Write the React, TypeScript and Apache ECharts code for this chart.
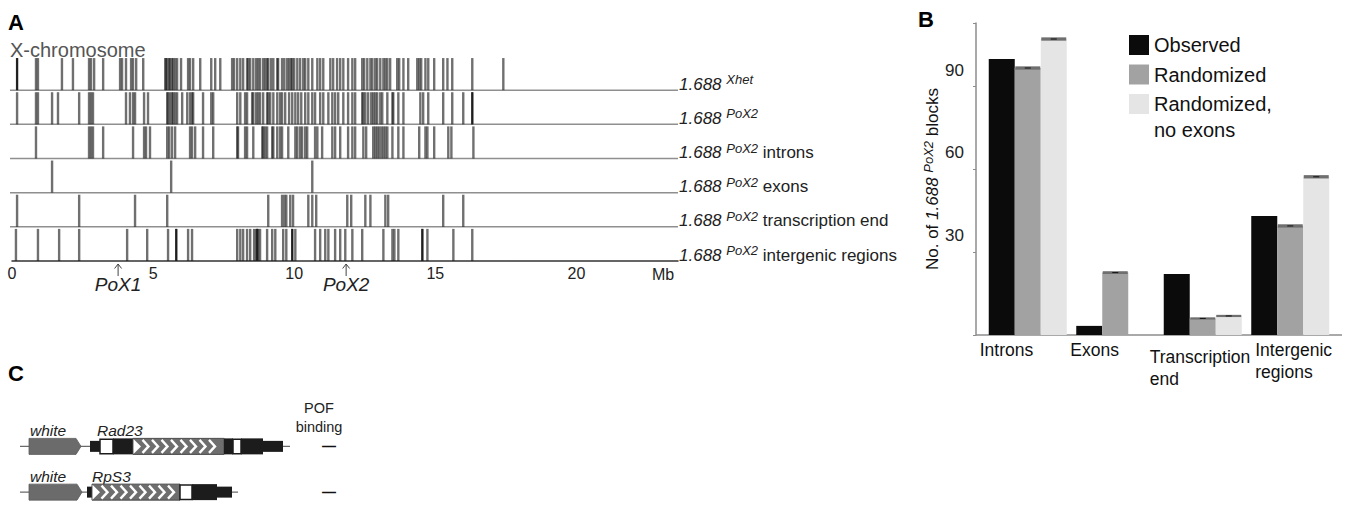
import React, { useEffect, useRef } from 'react';
import * as echarts from 'echarts';

const FONT = '"Liberation Sans", Arial, Helvetica, sans-serif';

// ---------------- Panel A data (positions in Mb) ----------------
const trackSup = ['Xhet', 'PoX2', 'PoX2', 'PoX2', 'PoX2', 'PoX2'];
const trackSuffix = ['', '', 'introns', 'exons', 'transcription end', 'intergenic regions'];

const xhetMb = [0.18, 0.85, 0.92, 1.77, 2.16, 2.73, 2.80, 2.91, 3.23, 3.83, 3.90, 4.04, 4.22, 4.29, 4.40, 4.65,
  5.43, 5.46, 5.50, 5.57, 5.60, 5.67, 5.71, 5.78, 5.85, 5.99, 6.24, 6.31, 6.42, 6.67, 7.06, 7.20, 7.38,
  7.80, 7.87, 7.98, 8.09, 8.19, 8.33, 8.37, 8.44, 8.55, 8.65, 8.72, 8.79, 8.90, 8.97, 9.04, 9.08, 9.18,
  9.26, 9.40, 9.43, 9.57, 9.65, 9.75, 9.82, 9.89, 9.93, 10.00, 10.11, 10.21, 10.32, 10.39, 10.50, 10.64,
  10.82, 10.92, 11.03, 11.28, 11.38, 11.52, 11.63, 11.74, 11.91, 12.06, 12.16, 12.41, 12.48, 12.59, 12.70,
  12.77, 12.87, 12.94, 13.05, 13.16, 13.23, 13.30, 13.40, 13.65, 13.72, 13.87, 14.04, 14.36, 14.43, 14.50,
  14.65, 14.75, 14.96, 15.28, 15.43, 15.60, 16.31, 17.41];
const pox2Mb = [0.18, 0.85, 0.92, 1.42, 1.63, 2.38, 2.73, 2.80, 2.87, 4.04, 4.18, 4.29, 4.36, 4.68, 4.82,
  5.50, 5.53, 5.60, 5.67, 5.71, 5.78, 5.85, 6.03, 6.21, 6.31, 6.38, 6.42, 6.77, 7.06, 7.13, 7.98, 8.09,
  8.26, 8.33, 8.51, 8.55, 8.65, 8.72, 8.79, 8.90, 9.04, 9.08, 9.15, 9.26, 9.40, 9.50, 9.57, 9.68, 9.82,
  9.93, 10.04, 10.14, 10.25, 10.39, 10.50, 10.64, 10.74, 10.92, 11.03, 11.21, 11.35, 11.45, 11.56, 11.74,
  11.91, 12.06, 12.16, 12.41, 12.45, 12.52, 12.62, 12.73, 12.80, 12.87, 12.94, 13.05, 13.12, 13.30, 13.48,
  13.51, 13.69, 13.87, 14.47, 14.57, 14.75, 15.28, 15.60, 15.99, 16.31];
const intronsMb = [0.85, 2.73, 2.80, 2.87, 3.23, 4.29, 4.68, 4.75, 4.89, 5.50, 5.57, 5.67, 5.78, 6.31, 6.38,
  6.49, 6.77, 7.13, 7.98, 8.01, 8.26, 8.33, 8.55, 8.87, 8.90, 8.97, 9.04, 9.22, 9.26, 9.40, 9.50, 9.57,
  9.79, 10.04, 10.11, 10.21, 10.28, 10.39, 10.46, 10.74, 10.82, 10.99, 11.35, 11.45, 11.63, 11.91, 12.06,
  12.16, 12.45, 12.55, 12.80, 12.87, 12.94, 13.01, 13.09, 13.16, 13.23, 13.30, 13.48, 13.69, 13.87, 14.43,
  14.65, 14.72, 14.96, 15.46, 15.57, 16.35];
const exonsMb = [1.42, 5.64, 10.64];
const transcriptionEndMb = [0.18, 2.38, 4.36, 5.50, 9.08, 9.57, 9.65, 9.72, 9.86, 9.96, 10.50, 10.64, 10.78,
  11.88, 12.02, 12.52, 12.70, 13.23, 13.33, 15.28, 15.99];
const intergenicMb = [0.14, 0.92, 1.67, 2.38, 4.08, 4.79, 5.53, 5.82, 6.24, 6.38, 7.98, 8.09, 8.19, 8.33,
  8.44, 8.58, 8.65, 8.69, 8.72, 8.79, 9.04, 9.22, 9.33, 9.61, 9.72, 9.93, 10.04, 10.74, 10.92, 11.10, 11.21,
  11.45, 11.63, 11.81, 12.06, 12.41, 13.16, 13.48, 13.55, 13.69, 14.54, 14.72, 15.64, 16.31];
const strongMarks = [[0.18, 0], [16.31, 1], [5.82, 5], [8.69, 5], [9.93, 5], [14.54, 5]];
const chromosomeEndMb = 23.6;
const poxNames = ['PoX1', 'PoX2'];
const poxMb = [3.76, 11.84];

// ---------------- Panel B data ----------------
const bCategories = ['Introns', 'Exons', 'Transcription end', 'Intergenic regions'];
const bCategoryLabels = ['Introns', 'Exons', 'Transcription\nend', 'Intergenic\nregions'];
const observed = [100, 3.3, 22.1, 43.1];
const randomized = [96.7, 22.6, 6.0, 39.5];
const randomizedNoExons = [107.2, 0, 6.9, 57.3];
const randomizedErr = [0.6, 0.5, 0.4, 0.6];
const noExonsErr = [0.6, 0, 0.4, 0.6];

// ---------------- Panel C data (construct units) ----------------
const constructNames = ['Rad23', 'RpS3'];
const reporterName = 'white';
const segKinds = ['reporter', 'cap', 'open', 'exon', 'cds'];
const rad23Segments: [number, number, string][] = [[19, 71, 'reporter'], [80, 90, 'cap'], [90, 103, 'open'],
  [103, 123, 'exon'], [123, 214, 'cds'], [214, 223, 'exon'], [223, 231, 'open'], [231, 253, 'exon'], [253, 273, 'cap']];
const rps3Segments: [number, number, string][] = [[19, 72, 'reporter'], [77, 82, 'cap'], [82, 170, 'cds'],
  [170, 182, 'open'], [182, 207, 'exon'], [207, 222, 'cap']];
const backbones = [[10, 280], [10, 228]];
const pofBinding = ['—', '—'];

// layout/style constants
const bLabelDx = [-48, -45, -53, -35];
const bLabelDy = [4, 4, 11, 4];
const constructNameAt = [87, 82];
const reporterNameAt = 19;
const pofColumnAt = 319;

function buildOption(): any {
  const trackData = [xhetMb, pox2Mb, intronsMb, exonsMb, transcriptionEndMb, intergenicMb];
  const trackMarks = trackData.flatMap((arr, k) => arr.map((p) => [p, k]));
  const segData = [rad23Segments, rps3Segments].flatMap((segs, r) =>
    segs.map((s) => [r, s[0], s[1], segKinds.indexOf(s[2])]));
  const errData = [
    ...randomized.map((v, i) => [i, v, randomizedErr[i], 1]),
    ...randomizedNoExons.map((v, i) => [i, v, noExonsErr[i], 2]),
  ].filter((d) => d[2] > 0);

  const trackLine = (stroke: string, width: number) => (params: any, api: any) => {
    const pos = api.value(0);
    const k = api.value(1);
    const b = api.coord([pos, 5 - k]);
    const t = api.coord([pos, 5 - k + 0.94]);
    return { type: 'line', shape: { x1: b[0], y1: b[1], x2: t[0], y2: t[1] }, style: { stroke, lineWidth: width } };
  };

  const legendText = { fontSize: 20, lineHeight: 26, color: '#111', fontFamily: FONT };

  return {
    animation: false,
    backgroundColor: '#fff',
    textStyle: { fontFamily: FONT },
    grid: [
      { left: 12, top: 56, width: 666, height: 205 },
      { left: 984, top: 23, width: 350, height: 312 },
      { left: 10, top: 423.5, width: 330, height: 104 },
    ],
    legend: [
      {
        orient: 'vertical', left: 1129, top: 32, padding: 0, itemWidth: 20, itemHeight: 20, itemGap: 3.5,
        selectedMode: false, icon: 'rect', textStyle: legendText,
        data: ['Observed', 'Randomized'],
      },
      {
        orient: 'vertical', left: 1129, top: 91, padding: 0, itemWidth: 20, itemHeight: 46,
        selectedMode: false, icon: 'path://M0,0L20,0L20,20L0,20Z M0,46L0.01,46Z', textStyle: legendText,
        data: ['Randomized, no exons'],
        formatter: (n: string) => n.replace(', ', ',\n'),
      },
    ],
    xAxis: [
      {
        gridIndex: 0, type: 'value', min: 0, max: chromosomeEndMb, interval: 5,
        axisLine: { lineStyle: { color: '#333', width: 1.5 } }, axisTick: { show: false }, splitLine: { show: false },
        axisLabel: { fontSize: 16, color: '#222', margin: 4, formatter: (v: number) => (v % 5 === 0 ? String(v) : '') },
        name: 'Mb', nameLocation: 'end', nameGap: -15,
        nameTextStyle: { fontSize: 16, color: '#222', align: 'center', verticalAlign: 'top', padding: [5, 0, 0, 0] },
      },
      { gridIndex: 1, type: 'category', data: bCategories, axisLine: { show: false }, axisTick: { show: false }, axisLabel: { show: false } },
      { gridIndex: 2, type: 'value', min: 0, max: 330, show: false },
    ],
    yAxis: [
      { gridIndex: 0, type: 'value', min: 0, max: 6, interval: 1, show: false },
      {
        gridIndex: 0, type: 'value', min: 0, max: 6, interval: 1, position: 'right',
        axisLine: { show: false }, axisTick: { show: false }, splitLine: { show: false },
        axisLabel: {
          margin: 1, align: 'left', verticalAlign: 'middle', padding: [0, 0, 12, 0],
          formatter: (v: number) => {
            if (v < 0 || v > 5 || v !== Math.round(v)) return '';
            const k = 5 - v;
            return `{i|1.688 }{s|${trackSup[k]}}` + (trackSuffix[k] ? `{t| ${trackSuffix[k]}}` : '');
          },
          rich: {
            i: { fontSize: 17, fontStyle: 'italic', color: '#222', fontFamily: FONT },
            s: { fontSize: 13, fontStyle: 'italic', color: '#222', fontFamily: FONT, padding: [0, 0, 9, 0] },
            t: { fontSize: 17, color: '#222', fontFamily: FONT },
          },
        },
      },
      {
        gridIndex: 1, type: 'value', min: 0, max: 113, interval: 30, offset: 8,
        axisLine: { show: true, lineStyle: { color: '#8c8c8c', width: 1.5 } },
        axisTick: { show: true, length: 3, lineStyle: { color: '#8c8c8c' } }, splitLine: { show: false },
        axisLabel: {
          fontSize: 17, color: '#222', margin: 12, verticalAlign: 'bottom', padding: [0, 0, 8, 0],
          formatter: (v: number) => (v > 0 && v % 30 === 0 ? String(v) : ''),
        },
        name: '{n|No. of }{i|1.688 }{s|PoX2}{n| blocks}', nameLocation: 'middle', nameGap: 31, nameRotate: 90,
        nameTextStyle: {
          rich: {
            n: { fontSize: 17, color: '#111', fontFamily: FONT },
            i: { fontSize: 17, color: '#111', fontStyle: 'italic', fontFamily: FONT },
            s: { fontSize: 13, color: '#111', fontStyle: 'italic', fontFamily: FONT, padding: [0, 0, 9, 0] },
          },
        },
      },
      { gridIndex: 2, type: 'category', data: constructNames, inverse: true, show: false },
    ],
    graphic: [
      { type: 'text', x: 8, y: 22.5, style: { text: 'A', fontSize: 22, fontWeight: 'bold', fontFamily: FONT, fill: '#000', verticalAlign: 'middle' } },
      { type: 'text', x: 918, y: 19.5, style: { text: 'B', fontSize: 22, fontWeight: 'bold', fontFamily: FONT, fill: '#000', verticalAlign: 'middle' } },
      { type: 'text', x: 8, y: 373.5, style: { text: 'C', fontSize: 22, fontWeight: 'bold', fontFamily: FONT, fill: '#000', verticalAlign: 'middle' } },
      { type: 'text', x: 10, y: 50, style: { text: 'X-chromosome', fontSize: 20, fontFamily: FONT, fill: '#555', verticalAlign: 'middle' } },
      { type: 'text', x: 319, y: 408, style: { text: 'POF', fontSize: 14.5, fontFamily: FONT, fill: '#222', align: 'center', verticalAlign: 'middle' } },
      { type: 'text', x: 319, y: 427, style: { text: 'binding', fontSize: 14.5, fontFamily: FONT, fill: '#222', align: 'center', verticalAlign: 'middle' } },
      { type: 'line', shape: { x1: 976, y1: 335, x2: 1342, y2: 335 }, style: { stroke: '#8c8c8c', lineWidth: 1.5 } },
    ],
    series: [
      // ---- Panel A ----
      {
        type: 'custom', xAxisIndex: 0, yAxisIndex: 0, silent: true, clip: false,
        data: [0, 1, 2, 3, 4].map((k) => [chromosomeEndMb, k]),
        renderItem: (params: any, api: any) => {
          const k = api.value(1);
          const a = api.coord([0, 5 - k]);
          const b = api.coord([api.value(0), 5 - k]);
          return { type: 'line', shape: { x1: a[0] - 2, y1: a[1], x2: b[0], y2: b[1] }, style: { stroke: '#8f8f8f', lineWidth: 1.5 } };
        },
      },
      { type: 'custom', xAxisIndex: 0, yAxisIndex: 0, silent: true, clip: false, data: trackMarks, renderItem: trackLine('rgba(25,25,25,0.62)', 2.4) },
      { type: 'custom', xAxisIndex: 0, yAxisIndex: 0, silent: true, clip: false, data: strongMarks, renderItem: trackLine('#1e1e1e', 2) },
      {
        type: 'custom', xAxisIndex: 0, yAxisIndex: 0, silent: true, clip: false,
        data: poxMb.map((p, i) => [p, i]),
        renderItem: (params: any, api: any) => {
          const p = api.coord([api.value(0), 0]);
          const name = poxNames[api.value(1)];
          return {
            type: 'group', children: [
              { type: 'line', shape: { x1: p[0], y1: p[1] + 3, x2: p[0], y2: p[1] + 15 }, style: { stroke: '#444', lineWidth: 1 } },
              { type: 'polyline', shape: { points: [[p[0] - 3.5, p[1] + 7.5], [p[0], p[1] + 3], [p[0] + 3.5, p[1] + 7.5]] }, style: { stroke: '#444', lineWidth: 1, fill: 'none' } },
              { type: 'text', x: p[0], y: p[1] + 23, style: { text: name, fontSize: 19, fontStyle: 'italic', fontFamily: FONT, fill: '#222', align: 'center', verticalAlign: 'middle' } },
            ],
          };
        },
      },
      // ---- Panel B ----
      { name: 'Observed', type: 'bar', xAxisIndex: 1, yAxisIndex: 2, data: observed, barWidth: 26, barGap: '0%', itemStyle: { color: '#0b0b0b' } },
      { name: 'Randomized', type: 'bar', xAxisIndex: 1, yAxisIndex: 2, data: randomized, barWidth: 26, barGap: '0%', itemStyle: { color: '#a2a2a2' } },
      { name: 'Randomized, no exons', type: 'bar', xAxisIndex: 1, yAxisIndex: 2, data: randomizedNoExons, barWidth: 26, barGap: '0%', itemStyle: { color: '#e5e5e5' } },
      {
        type: 'custom', xAxisIndex: 1, yAxisIndex: 2, silent: true, clip: false, data: errData, z: 5,
        renderItem: (params: any, api: any) => {
          const c = api.value(0), v = api.value(1), e = api.value(2), s = api.value(3);
          const mid = api.coord([c, v]);
          const x = mid[0] + (s - 1) * 26;
          const yt = api.coord([c, v + e])[1];
          const yb = api.coord([c, v - e])[1];
          return {
            type: 'group', children: [
              { type: 'rect', shape: { x: x - 12.5, y: yt, width: 25, height: Math.max(yb - yt, 2) }, style: { fill: '#6f6f6f' } },
              { type: 'line', shape: { x1: x - 3, y1: mid[1], x2: x + 3, y2: mid[1] }, style: { stroke: '#111', lineWidth: 1 } },
            ],
          };
        },
      },
      {
        type: 'custom', xAxisIndex: 1, yAxisIndex: 2, silent: true, clip: false,
        data: bCategoryLabels.map((_, i) => [i, 0]),
        renderItem: (params: any, api: any) => {
          const i = api.value(0);
          const p = api.coord([i, 0]);
          return {
            type: 'text', x: p[0] + bLabelDx[i], y: p[1] + bLabelDy[i],
            style: { text: bCategoryLabels[i], fontSize: 17.5, lineHeight: 22, fontFamily: FONT, fill: '#111', align: 'left', verticalAlign: 'top' },
          };
        },
      },
      // ---- Panel C ----
      {
        type: 'custom', xAxisIndex: 2, yAxisIndex: 3, silent: true, clip: false, encode: { x: [1, 2], y: 0 },
        data: backbones.map((b, r) => [r, b[0], b[1]]),
        renderItem: (params: any, api: any) => {
          const r = api.value(0);
          const a = api.coord([api.value(1), r]);
          const b = api.coord([api.value(2), r]);
          return { type: 'line', shape: { x1: a[0], y1: a[1], x2: b[0], y2: b[1] }, style: { stroke: '#6a6a6a', lineWidth: 1.2 } };
        },
      },
      {
        type: 'custom', xAxisIndex: 2, yAxisIndex: 3, silent: true, clip: false, encode: { x: [1, 2], y: 0 }, z: 3,
        data: segData,
        renderItem: (params: any, api: any) => {
          const r = api.value(0);
          const p0 = api.coord([api.value(1), r]);
          const p1 = api.coord([api.value(2), r]);
          const kind = segKinds[api.value(3)];
          const x0 = p0[0], x1 = p1[0], y = p0[1];
          const H = 8;
          if (kind === 'reporter') {
            return { type: 'polygon', shape: { points: [[x0, y - H], [x1 - 5, y - H], [x1, y], [x1 - 5, y + H], [x0, y + H]] }, style: { fill: '#6b6b6b', stroke: '#5a5a5a', lineWidth: 0.8 } };
          }
          if (kind === 'cap') {
            return { type: 'rect', shape: { x: x0, y: y - 5.5, width: x1 - x0, height: 11 }, style: { fill: '#1c1c1c' } };
          }
          if (kind === 'exon') {
            return { type: 'rect', shape: { x: x0, y: y - H, width: x1 - x0, height: 2 * H }, style: { fill: '#1c1c1c' } };
          }
          if (kind === 'open') {
            return { type: 'rect', shape: { x: x0, y: y - H + 0.75, width: x1 - x0, height: 2 * H - 1.5 }, style: { fill: '#fff', stroke: '#1c1c1c', lineWidth: 1.5 } };
          }
          const children: any[] = [
            { type: 'rect', shape: { x: x0, y: y - H, width: x1 - x0, height: 2 * H }, style: { fill: '#6e6e6e', stroke: '#4a4a4a', lineWidth: 1 } },
            { type: 'polygon', shape: { points: [[x0 + 0.5, y - H + 0.5], [x0 + 8, y], [x0 + 0.5, y + H - 0.5]] }, style: { fill: '#fff' } },
          ];
          for (let cx = x0 + 14; cx < x1 - 2; cx += 9.5) {
            children.push({ type: 'polyline', shape: { points: [[cx - 4.5, y - 6.5], [cx + 1.5, y], [cx - 4.5, y + 6.5]] }, style: { stroke: '#fff', lineWidth: 2.4, fill: 'none' } });
          }
          return { type: 'group', children };
        },
      },
      {
        type: 'custom', xAxisIndex: 2, yAxisIndex: 3, silent: true, clip: false, encode: { x: [1, 2], y: 0 },
        data: constructNames.map((_, r) => [r, reporterNameAt, constructNameAt[r]]),
        renderItem: (params: any, api: any) => {
          const r = api.value(0);
          const a = api.coord([api.value(1), r]);
          const b = api.coord([api.value(2), r]);
          const d = api.coord([pofColumnAt, r]);
          const st = { fontSize: 15.5, fontStyle: 'italic', fontFamily: FONT, fill: '#222', verticalAlign: 'middle' };
          return {
            type: 'group', children: [
              { type: 'text', x: a[0] + 1, y: a[1] - 16, style: { ...st, text: reporterName } },
              { type: 'text', x: b[0], y: b[1] - 16, style: { ...st, text: constructNames[r] } },
              { type: 'text', x: d[0], y: d[1], style: { text: pofBinding[r], fontSize: 14, fontWeight: 'bold', fontFamily: FONT, fill: '#111', align: 'center', verticalAlign: 'middle' } },
            ],
          };
        },
      },
    ],
  };
}

export default function App() {
  const ref = useRef<HTMLDivElement>(null);
  useEffect(() => {
    if (!ref.current) return;
    const chart = echarts.init(ref.current, null, { renderer: 'svg' });
    chart.setOption(buildOption());
    return () => chart.dispose();
  }, []);
  return (
    <div
      ref={ref}
      style={{ position: 'fixed', left: 0, top: 0, width: 1348, height: 515, background: '#fff' }}
    />
  );
}
